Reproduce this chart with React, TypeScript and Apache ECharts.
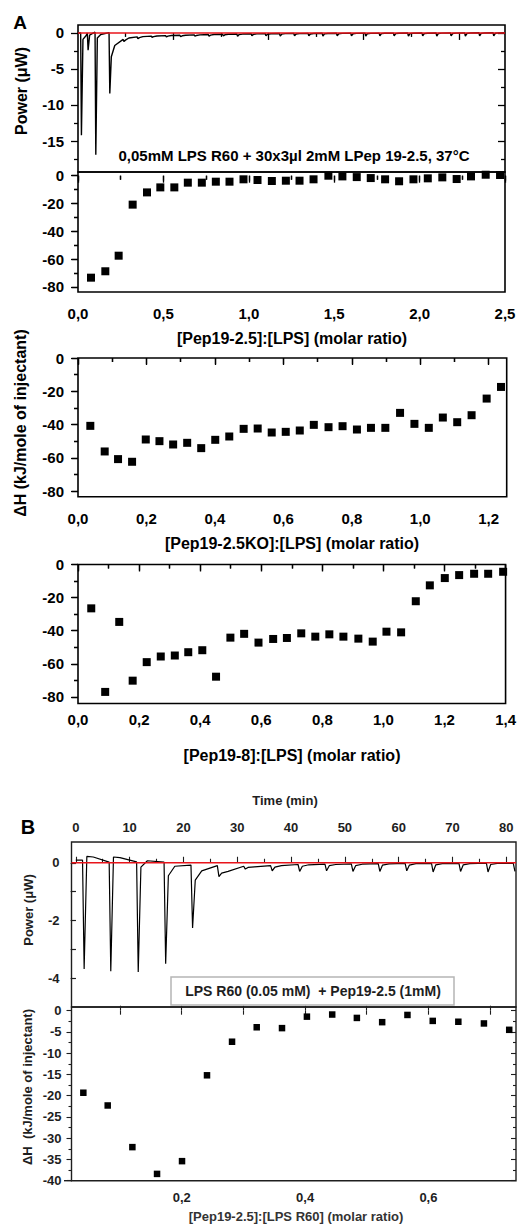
import React, { useEffect, useRef } from "react";
import * as echarts from "echarts";

const FONT = "'Liberation Sans', Arial, Helvetica, sans-serif";

// ---------- Panel A1: raw power trace (time in min, power in µW) ----------
const a1Time = [1.4, 4.9, 8.95, 16.3, 23.7, 31.05, 38.5, 46.0, 53.5, 61.0, 68.4, 75.9, 83.4, 90.9, 98.3, 105.8, 113.3, 120.8, 128.2, 135.7, 143.2, 150.7, 158.1, 165.6, 173.1, 180.6, 188.0, 195.5, 203.0, 210.5, 217.9];
const a1Peak = [-14.2, -2.4, -16.9, -8.4, -1.2, -0.8, -0.6, -0.55, -0.5, -0.45, -0.45, -0.4, -0.45, -0.4, -0.4, -0.45, -0.4, -0.4, -0.45, -0.4, -0.4, -0.45, -0.4, -0.4, -0.45, -0.4, -0.45, -0.4, -0.45, -0.4, -0.4];
const a1Level = [0.0, 0.0, 0.1, 0.05, -0.9, -0.55, -0.45, -0.38, -0.32, -0.27, -0.22, -0.18, -0.15, -0.12, -0.1, -0.08, -0.07, -0.06, -0.05, -0.05, -0.04, -0.04, -0.03, -0.03, -0.02, -0.02, -0.01, 0.0, 0.0, 0.02, 0.03];
const a1Rec = [-0.9, -0.3, -0.7, -3.3, -1.0, -0.65, -0.52, -0.45, -0.4, -0.35, -0.3, -0.26, -0.23, -0.2, -0.18, -0.16, -0.15, -0.14, -0.13, -0.12, -0.12, -0.11, -0.1, -0.1, -0.09, -0.09, -0.08, -0.08, -0.07, -0.06, -0.05];
const a1TimeRange = [0, 224.2];
const a1PowerRange = [-19.3, 1.1];
const a1YMajor = [-15, -10, -5, 0];
const a1YMinor = [-17.5, -12.5, -7.5, -2.5];
const a1TMajor = [50, 100, 150, 200];
const a1TMinor = [25, 75, 125, 175, 225];

// ---------- Panel A2: [Pep19-2.5]:[LPS] ----------
const a2X = [0.076, 0.16, 0.238, 0.32, 0.404, 0.482, 0.564, 0.643, 0.725, 0.807, 0.887, 0.969, 1.051, 1.135, 1.217, 1.297, 1.379, 1.466, 1.548, 1.632, 1.714, 1.798, 1.88, 1.964, 2.048, 2.133, 2.217, 2.301, 2.387, 2.471];
const a2Y = [-73.3, -68.7, -57.5, -20.8, -12, -8.4, -8.4, -5, -5, -4.3, -4.3, -2.6, -3.1, -3.8, -3.6, -3.6, -2.6, 0, -0.5, -1, -1.7, -2.6, -4, -2.6, -1.9, -1.2, -2.4, -0.5, 0.7, 0.5];
const a2XMajor = [0, 0.5, 1.0, 1.5, 2.0, 2.5];
const a2XMinor = [0.25, 0.75, 1.25, 1.75, 2.25];

// ---------- Panel A3: [Pep19-2.5KO]:[LPS] ----------
const a3X = [0.036, 0.078, 0.117, 0.158, 0.198, 0.238, 0.278, 0.319, 0.36, 0.401, 0.442, 0.484, 0.525, 0.566, 0.607, 0.648, 0.689, 0.732, 0.773, 0.815, 0.856, 0.898, 0.941, 0.983, 1.025, 1.066, 1.108, 1.15, 1.194, 1.236];
const a3Y = [-40.8, -56.2, -60.8, -62.4, -49, -50, -52, -51, -54.2, -49.2, -47.2, -42.6, -42.4, -44.8, -44.4, -43.6, -40.2, -41.6, -41, -43, -42, -42, -33, -39.6, -42, -35.8, -38.6, -34.4, -24.4, -17.4];
const a3XMajor = [0, 0.2, 0.4, 0.6, 0.8, 1.0, 1.2];
const a3XMinor = [0.1, 0.3, 0.5, 0.7, 0.9, 1.1];

// ---------- Panel A4: [Pep19-8]:[LPS] ----------
const a4X = [0.0434, 0.089, 0.135, 0.179, 0.225, 0.271, 0.317, 0.361, 0.407, 0.452, 0.499, 0.544, 0.591, 0.639, 0.684, 0.731, 0.777, 0.823, 0.869, 0.918, 0.965, 1.01, 1.058, 1.106, 1.152, 1.201, 1.248, 1.297, 1.343, 1.392];
const a4Y = [-26.5, -77, -34.7, -70.2, -59, -55.6, -55, -53, -51.8, -67.8, -44.2, -41.9, -47.2, -45, -44.4, -41.6, -43.6, -42.2, -43.6, -44.8, -46.6, -40.6, -41, -22.2, -12.6, -8.2, -6.4, -5.6, -5.6, -4.4];
const a4XMajor = [0, 0.2, 0.4, 0.6, 0.8, 1.0, 1.2, 1.4];
const a4XMinor = [0.1, 0.3, 0.5, 0.7, 0.9, 1.1, 1.3];

const aYMajor = [-80, -60, -40, -20, 0];
const aYMinor = [-70, -50, -30, -10];

// ---------- Panel B1: raw power trace ----------
const bTime = [1.25, 6.2, 11.3, 16.4, 21.4, 26.3, 31.2, 36.2, 41.3, 46.3, 51.2, 56.2, 61.2, 66.1, 71.2, 76.3, 81.3];
const bPeak = [-3.68, -3.76, -3.79, -3.5, -2.26, -0.48, -0.22, -0.28, -0.3, -0.28, -0.3, -0.3, -0.28, -0.32, -0.3, -0.32, -0.3];
const bLevel = [0.09, 0.02, 0.03, 0.02, -0.08, -0.1, -0.12, -0.1, -0.06, -0.05, -0.04, -0.03, -0.02, -0.02, -0.02, -0.01, -0.02];
const bRec = [0.22, 0.2, -0.15, -0.45, -0.6, -0.36, -0.16, -0.15, -0.12, -0.1, -0.1, -0.08, -0.08, -0.07, -0.07, -0.06, -0.07];
const bRec2 = [0.2, 0.18, 0.07, -0.12, -0.28, -0.3, -0.14, -0.1, -0.07, -0.06, -0.05, -0.04, -0.03, -0.03, -0.03, -0.02, -0.03];
const bTimeRange = [-0.8, 81.8];
const bPowerRange = [-5, 0.72];
const bTMajor = [0, 10, 20, 30, 40, 50, 60, 70, 80];
const bTMinor = [5, 15, 25, 35, 45, 55, 65, 75];
const bYLabels = [-4, -2, 0];
const bYTicks = [-4, -3, -2, -1, 0];

// ---------- Panel B2: [Pep19-2.5]:[LPS R60] ----------
const b2X = [0.0405, 0.08, 0.12, 0.16, 0.2005, 0.241, 0.2816, 0.3216, 0.3626, 0.403, 0.444, 0.484, 0.525, 0.566, 0.607, 0.6485, 0.69, 0.731];
const b2Y = [-19.3, -22.3, -32.1, -38.4, -35.4, -15.2, -7.3, -3.9, -4.1, -1.4, -0.9, -1.7, -2.7, -1.0, -2.4, -2.6, -3.0, -4.5];
const b2XLabels = [0.2, 0.4, 0.6];
const b2XMinor = [0.1, 0.3, 0.5, 0.7];
const b2YMajor = [-40, -35, -30, -25, -20, -15, -10, -5, 0];
const b2YMinor = [-37.5, -32.5, -27.5, -22.5, -17.5, -12.5, -7.5, -2.5];

// ---------- helpers ----------
const fmtComma = (v: number) => v.toFixed(1).replace(".", ",");
const fmtInt = (v: number) => String(Math.round(v));

function buildA1Trace(): number[][] {
  const pts: number[][] = [[a1TimeRange[0], a1Level[0]]];
  for (let i = 0; i < a1Time.length; i++) {
    const t = a1Time[i];
    const next = i + 1 < a1Time.length ? a1Time[i + 1] : a1TimeRange[1];
    const lvlNext = i + 1 < a1Level.length ? a1Level[i + 1] : 0.03;
    pts.push([t, a1Level[i]]);
    pts.push([t + 0.4, a1Peak[i]]);
    pts.push([t + 1.2, a1Rec[i]]);
    if (t + 3 < next - 0.3) pts.push([t + 3, lvlNext + (a1Rec[i] - lvlNext) * 0.35]);
  }
  pts.push([a1TimeRange[1], 0.03]);
  return pts;
}

function buildBTrace(): number[][] {
  const pts: number[][] = [[0, bLevel[0]]];
  for (let i = 0; i < bTime.length; i++) {
    const t = bTime[i];
    pts.push([t, bLevel[i]]);
    pts.push([t + 0.3, bPeak[i]]);
    if (t + 0.8 <= bTimeRange[1]) pts.push([t + 0.8, bRec[i]]);
    if (t + 2 <= bTimeRange[1]) pts.push([t + 2, bRec2[i]]);
  }
  return pts;
}

type Tk = {
  pos: string;
  ticks: number[];
  len: number;
  inside: boolean;
  labels?: number[];
  fmt?: (v: number) => string;
  font?: number;
  margin?: number;
};

type Panel = {
  grid: { left: number; top: number; width: number; height: number };
  x: number[];
  y: number[];
  xt: Tk[];
  yt: Tk[];
  color: string;
  bw: number;
  tw: number;
};

function axisFrom(t: Tk, gi: number, r: number[], p: Panel) {
  return {
    type: "value",
    gridIndex: gi,
    position: t.pos,
    min: r[0],
    max: r[1],
    axisLine: { show: false },
    splitLine: { show: false },
    minorTick: { show: false },
    axisTick: {
      show: true,
      inside: t.inside,
      length: t.len,
      customValues: t.ticks,
      lineStyle: { color: p.color, width: p.tw },
    },
    axisLabel: {
      show: !!t.labels,
      customValues: t.labels || t.ticks,
      formatter: t.fmt,
      fontSize: t.font,
      fontWeight: "bold",
      fontFamily: FONT,
      color: p.color,
      margin: t.margin,
    },
  };
}

const A_COL = "#000";
const B_COL = "#1e1e1e";

const panels: Panel[] = [
  {
    grid: { left: 78, top: 25, width: 427, height: 147 },
    x: a1TimeRange,
    y: a1PowerRange,
    xt: [
      { pos: "top", ticks: a1TMajor, len: 7, inside: true },
      { pos: "top", ticks: a1TMinor, len: 4, inside: true },
    ],
    yt: [
      { pos: "left", ticks: a1YMajor, len: 7, inside: false, labels: a1YMajor, fmt: fmtInt, font: 15, margin: 14 },
      { pos: "left", ticks: a1YMinor, len: 4, inside: false },
      { pos: "right", ticks: a1YMajor, len: 7, inside: true },
      { pos: "right", ticks: a1YMinor, len: 4, inside: true },
    ],
    color: A_COL,
    bw: 1.6,
    tw: 1.3,
  },
  {
    grid: { left: 78, top: 172, width: 427, height: 120 },
    x: [0, 2.5],
    y: [-83.6, 2.66],
    xt: [
      { pos: "bottom", ticks: a2XMajor, len: 7, inside: false, labels: a2XMajor, fmt: fmtComma, font: 15, margin: 14 },
      { pos: "bottom", ticks: a2XMinor, len: 4, inside: false },
      { pos: "top", ticks: a2XMajor, len: 5, inside: true },
      { pos: "top", ticks: a2XMinor, len: 4, inside: true },
    ],
    yt: [
      { pos: "left", ticks: aYMajor, len: 7, inside: false, labels: aYMajor, fmt: fmtInt, font: 15, margin: 14 },
      { pos: "left", ticks: aYMinor, len: 4, inside: false },
      { pos: "right", ticks: aYMajor, len: 6, inside: true },
      { pos: "right", ticks: aYMinor, len: 4, inside: true },
    ],
    color: A_COL,
    bw: 1.6,
    tw: 1.3,
  },
  {
    grid: { left: 78, top: 358, width: 428.7, height: 138.7 },
    x: [0, 1.2526],
    y: [-83.4, 0],
    xt: [
      { pos: "bottom", ticks: a3XMajor, len: 7, inside: false, labels: a3XMajor, fmt: fmtComma, font: 15, margin: 14 },
      { pos: "bottom", ticks: a3XMinor, len: 4, inside: false },
      { pos: "top", ticks: a3XMajor, len: 6, inside: true },
      { pos: "top", ticks: a3XMinor, len: 4, inside: true },
    ],
    yt: [
      { pos: "left", ticks: aYMajor, len: 7, inside: false, labels: aYMajor, fmt: fmtInt, font: 15, margin: 14 },
      { pos: "left", ticks: aYMinor, len: 4, inside: false },
      { pos: "right", ticks: aYMajor, len: 6, inside: true },
      { pos: "right", ticks: aYMinor, len: 4, inside: true },
    ],
    color: A_COL,
    bw: 1.6,
    tw: 1.3,
  },
  {
    grid: { left: 78, top: 564.5, width: 428.7, height: 139 },
    x: [0, 1.4],
    y: [-84, 0],
    xt: [
      { pos: "bottom", ticks: a4XMajor, len: 7, inside: false, labels: a4XMajor, fmt: fmtComma, font: 15, margin: 8 },
      { pos: "bottom", ticks: a4XMinor, len: 4, inside: false },
      { pos: "top", ticks: a4XMajor, len: 6, inside: true },
      { pos: "top", ticks: a4XMinor, len: 4, inside: true },
    ],
    yt: [
      { pos: "left", ticks: aYMajor, len: 7, inside: false, labels: aYMajor, fmt: fmtInt, font: 15, margin: 14 },
      { pos: "left", ticks: aYMinor, len: 4, inside: false },
      { pos: "right", ticks: aYMajor, len: 6, inside: true },
      { pos: "right", ticks: aYMinor, len: 4, inside: true },
    ],
    color: A_COL,
    bw: 1.6,
    tw: 1.3,
  },
  {
    grid: { left: 71.5, top: 842, width: 444.5, height: 165 },
    x: bTimeRange,
    y: bPowerRange,
    xt: [
      { pos: "top", ticks: bTMajor, len: 6, inside: false, labels: bTMajor, fmt: fmtInt, font: 13, margin: 8 },
      { pos: "top", ticks: bTMinor, len: 4, inside: false },
    ],
    yt: [
      { pos: "left", ticks: bYTicks, len: 5, inside: false, labels: bYLabels, fmt: fmtInt, font: 13, margin: 12 },
      { pos: "right", ticks: bYTicks, len: 5, inside: true },
    ],
    color: B_COL,
    bw: 1.4,
    tw: 1.1,
  },
  {
    grid: { left: 71.5, top: 1007, width: 444.5, height: 173.7 },
    x: [0.0213, 0.742],
    y: [-40, 0.87],
    xt: [
      { pos: "bottom", ticks: b2XLabels, len: 5, inside: true, labels: b2XLabels, fmt: fmtComma, font: 13, margin: 10 },
      { pos: "bottom", ticks: b2XMinor, len: 5, inside: true },
      { pos: "top", ticks: b2XLabels, len: 4, inside: true },
      { pos: "top", ticks: b2XMinor, len: 4, inside: true },
    ],
    yt: [
      { pos: "left", ticks: b2YMajor, len: 5, inside: false, labels: b2YMajor, fmt: fmtInt, font: 13, margin: 10 },
      { pos: "left", ticks: b2YMinor, len: 3, inside: false },
      { pos: "right", ticks: b2YMajor, len: 5, inside: true },
      { pos: "right", ticks: b2YMinor, len: 3, inside: true },
    ],
    color: B_COL,
    bw: 1.4,
    tw: 1.1,
  },
];

function buildOption() {
  const grid: any[] = [];
  const xAxis: any[] = [];
  const yAxis: any[] = [];
  const mainX: number[] = [];
  const mainY: number[] = [];
  panels.forEach((p, gi) => {
    grid.push({
      left: p.grid.left,
      top: p.grid.top,
      width: p.grid.width,
      height: p.grid.height,
      show: true,
      borderColor: p.color,
      borderWidth: p.bw,
      backgroundColor: "transparent",
      containLabel: false,
    });
    mainX.push(xAxis.length);
    p.xt.forEach((t) => xAxis.push(axisFrom(t, gi, p.x, p)));
    mainY.push(yAxis.length);
    p.yt.forEach((t) => yAxis.push(axisFrom(t, gi, p.y, p)));
  });

  const lineSeries = (gi: number, data: number[][], color: string, width: number) => ({
    type: "line",
    xAxisIndex: mainX[gi],
    yAxisIndex: mainY[gi],
    data,
    showSymbol: false,
    symbol: "none",
    lineStyle: { color, width },
    silent: true,
  });
  const scatter = (gi: number, xs: number[], ys: number[], size: number) => ({
    type: "scatter",
    xAxisIndex: mainX[gi],
    yAxisIndex: mainY[gi],
    data: xs.map((x, i) => [x, ys[i]]),
    symbol: "rect",
    symbolSize: size,
    itemStyle: { color: "#000", opacity: 1 },
    silent: true,
  });

  const series = [
    lineSeries(0, buildA1Trace(), "#000", 1.4),
    lineSeries(0, [[a1TimeRange[0], 0], [a1TimeRange[1], 0]], "#e8141b", 1.6),
    scatter(1, a2X, a2Y, 8),
    scatter(2, a3X, a3Y, 8),
    scatter(3, a4X, a4Y, 8),
    lineSeries(4, buildBTrace(), "#000", 1.2),
    lineSeries(4, [[bTimeRange[0], 0], [bTimeRange[1], 0]], "#e8141b", 1.6),
    scatter(5, b2X, b2Y, 6.5),
  ];

  const txt = (x: number, y: number, text: string, size: number, rot = 0, color = "#000") => ({
    type: "text",
    x,
    y,
    rotation: rot,
    z: 100,
    style: {
      text,
      fill: color,
      font: `bold ${size}px ${FONT}`,
      textAlign: "center",
      textVerticalAlign: "middle",
      align: "center",
      verticalAlign: "middle",
    },
  });
  const R = Math.PI / 2;

  const graphic = [
    txt(20, 22, "A", 19),
    txt(21, 91, "Power (\u03bcW)", 16, R),
    txt(20, 423, "\u0394H (kJ/mole of injectant)", 16, R),
    txt(294, 155, "0,05mM LPS R60 + 30x3\u00b5l 2mM LPep 19-2.5, 37\u00b0C", 15),
    txt(292, 338, "[Pep19-2.5]:[LPS] (molar ratio)", 16),
    txt(292, 543, "[Pep19-2.5KO]:[LPS] (molar ratio)", 16),
    txt(292, 755, "[Pep19-8]:[LPS] (molar ratio)", 16),
    txt(28, 827, "B", 20),
    txt(285, 800, "Time (min)", 13, 0, B_COL),
    txt(28, 910, "Power (\u03bcW)", 13, R, B_COL),
    txt(27, 1087, "\u0394H  (kJ/mole of injectant)", 13, R, B_COL),
    {
      type: "rect",
      z: 99,
      shape: { x: 171, y: 977, width: 283, height: 28 },
      style: { fill: "#fff", stroke: "#b5b5b5", lineWidth: 1.5 },
    },
    txt(313, 991, "LPS R60 (0.05 mM)  + Pep19-2.5 (1mM)", 14, 0, B_COL),
    txt(296, 1216, "[Pep19-2.5]:[LPS R60] (molar ratio)", 13, 0, "#333"),
    {
      type: "line",
      z: 50,
      shape: { x1: 64, y1: 1180.7, x2: 72, y2: 1180.7 },
      style: { stroke: B_COL, lineWidth: 1.4 },
    },
  ];

  return {
    animation: false,
    backgroundColor: "#fff",
    grid,
    xAxis,
    yAxis,
    series,
    graphic,
  };
}

export default function App() {
  const ref = useRef<HTMLDivElement>(null);
  useEffect(() => {
    if (!ref.current) return;
    const chart = echarts.init(ref.current, undefined, { renderer: "svg" });
    chart.setOption(buildOption() as any);
    return () => chart.dispose();
  }, []);
  return (
    <div
      ref={ref}
      style={{ position: "absolute", left: 0, top: 0, width: 519, height: 1225, background: "#fff" }}
    />
  );
}
